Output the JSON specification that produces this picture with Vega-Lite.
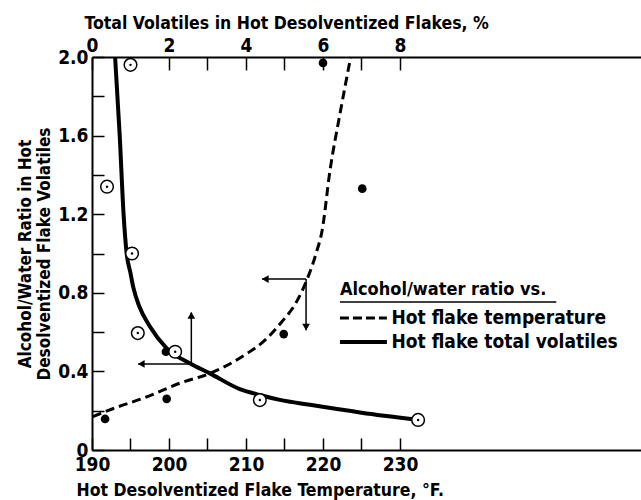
{
  "$schema": "https://vega.github.io/schema/vega-lite/v6.json",
  "width": 549,
  "height": 393,
  "autosize": "none",
  "padding": {"left": 92, "top": 57, "right": 0, "bottom": 50},
  "background": "white",
  "config": {
    "view": {"stroke": null},
    "axis": {
      "labelFont": "DejaVu Sans Condensed", "labelFontWeight": "bold", "labelFontSize": 19, "labelColor": "black",
      "titleFont": "DejaVu Sans Condensed", "titleFontWeight": "bold", "titleFontSize": 17.5, "titleColor": "black",
      "domainColor": "black", "domainWidth": 2, "tickColor": "black", "tickWidth": 1.5, "ticks": true,
      "grid": false, "labelFlush": false, "labelOverlap": false
    },
    "text": {"font": "DejaVu Sans Condensed", "fontWeight": "bold", "fontSize": 19, "color": "black"}
  },
  "datasets": {
    "tempCurve": [
      {"T": 190.1, "r": 0.17},
      {"T": 192.7, "r": 0.21},
      {"T": 197.1, "r": 0.27},
      {"T": 201.4, "r": 0.34},
      {"T": 205.3, "r": 0.39},
      {"T": 210.1, "r": 0.49},
      {"T": 212.5, "r": 0.56},
      {"T": 214.6, "r": 0.65},
      {"T": 216.5, "r": 0.75},
      {"T": 217.9, "r": 0.865},
      {"T": 219.1, "r": 1.0},
      {"T": 219.9, "r": 1.12},
      {"T": 220.9, "r": 1.42},
      {"T": 222.2, "r": 1.71},
      {"T": 223.6, "r": 2.0}
    ],
    "volCurve": [
      {"v": 0.60, "r": 2.00},
      {"v": 0.72, "r": 1.60},
      {"v": 0.82, "r": 1.20},
      {"v": 0.90, "r": 1.00},
      {"v": 1.00, "r": 0.90},
      {"v": 1.07, "r": 0.83},
      {"v": 1.23, "r": 0.73},
      {"v": 1.50, "r": 0.63},
      {"v": 1.93, "r": 0.52},
      {"v": 2.55, "r": 0.44},
      {"v": 3.06, "r": 0.39},
      {"v": 3.84, "r": 0.31},
      {"v": 4.36, "r": 0.28},
      {"v": 4.88, "r": 0.255},
      {"v": 5.66, "r": 0.23},
      {"v": 7.0, "r": 0.19},
      {"v": 8.4, "r": 0.155}
    ],
    "tempPts": [
      {"T": 191.7, "r": 0.158},
      {"T": 199.7, "r": 0.26},
      {"T": 199.6, "r": 0.50},
      {"T": 214.9, "r": 0.59},
      {"T": 225.1, "r": 1.33},
      {"T": 220.0, "r": 1.97}
    ],
    "volPts": [
      {"v": 1.0, "r": 1.96},
      {"v": 0.39, "r": 1.34},
      {"v": 1.04, "r": 1.00},
      {"v": 1.19, "r": 0.595},
      {"v": 2.16, "r": 0.50},
      {"v": 4.36, "r": 0.254},
      {"v": 8.47, "r": 0.153}
    ],
    "arrowH": [
      {"T": 202.9, "T2": 196.0, "r": 0.438},
      {"T": 217.8, "T2": 212.1, "r": 0.87}
    ],
    "arrowV": [
      {"T": 202.9, "r": 0.438, "r2": 0.70},
      {"T": 217.8, "r": 0.87, "r2": 0.61}
    ],
    "headLeft": [
      {"T": 196.4, "r": 0.438},
      {"T": 212.5, "r": 0.87}
    ],
    "headUp": [{"T": 202.9, "r": 0.685}],
    "headDown": [{"T": 217.8, "r": 0.625}],
    "legendTitle": [{"T": 222.2, "r": 0.814, "label": "Alcohol/water ratio vs."}],
    "underline": [{"T": 222.2, "T2": 250.3, "r": 0.753}],
    "legendDash": [{"T": 222.2, "T2": 228.3, "r": 0.672}],
    "legendSolid": [{"T": 222.2, "T2": 228.3, "r": 0.55}],
    "legendLabels": [
      {"T": 228.9, "r": 0.672, "label": "Hot flake temperature"},
      {"T": 228.9, "r": 0.55, "label": "Hot flake  total volatiles"}
    ]
  },
  "encoding": {
    "y": {
      "field": "r", "type": "quantitative",
      "scale": {"domain": [0, 2.0], "nice": false, "zero": false},
      "axis": {
        "orient": "left",
        "values": [0, 0.2, 0.4, 0.6, 0.8, 1.0, 1.2, 1.4, 1.6, 1.8, 2.0],
        "labelExpr": "round(datum.value*10) % 4 == 0 ? (datum.value == 0 ? '0' : format(datum.value, '.1f')) : ''",
        "tickSize": -12,
        "labelPadding": 16,
        "title": ["Alcohol/Water Ratio in Hot", "Desolventized Flake Volatiles"],
        "titleFontSize": 17,
        "titlePadding": 4
      }
    }
  },
  "layer": [
    {
      "encoding": {
        "x": {
          "field": "T", "type": "quantitative",
          "scale": {"domain": [190, 261.3], "nice": false, "zero": false},
          "axis": {
            "orient": "bottom",
            "values": [190, 195, 200, 205, 210, 215, 220, 225, 230],
            "labelExpr": "datum.value % 10 == 0 ? datum.label : ''",
            "tickSize": -12,
            "labelPadding": 17,
            "title": "Hot Desolventized Flake Temperature, °F.",
            "titleAnchor": "start", "titleAlign": "left", "titleX": -16, "titleY": 45, "titleBaseline": "alphabetic"
          }
        }
      },
      "layer": [
        {
          "data": {"name": "tempCurve"},
          "mark": {"type": "line", "interpolate": "monotone", "strokeWidth": 3, "color": "black", "strokeDash": [9, 5]}
        },
        {
          "data": {"name": "tempPts"},
          "mark": {"type": "point", "filled": true, "color": "black", "size": 75, "opacity": 1}
        },
        {
          "data": {"name": "arrowH"},
          "mark": {"type": "rule", "color": "black", "strokeWidth": 1.5},
          "encoding": {"x2": {"field": "T2"}}
        },
        {
          "data": {"name": "arrowV"},
          "mark": {"type": "rule", "color": "black", "strokeWidth": 1.5},
          "encoding": {"y2": {"field": "r2"}}
        },
        {
          "data": {"name": "headLeft"},
          "mark": {"type": "point", "shape": "triangle-left", "filled": true, "color": "black", "size": 60, "opacity": 1}
        },
        {
          "data": {"name": "headUp"},
          "mark": {"type": "point", "shape": "triangle-up", "filled": true, "color": "black", "size": 60, "opacity": 1}
        },
        {
          "data": {"name": "headDown"},
          "mark": {"type": "point", "shape": "triangle-down", "filled": true, "color": "black", "size": 60, "opacity": 1}
        },
        {
          "data": {"name": "underline"},
          "mark": {"type": "rule", "color": "black", "strokeWidth": 1.5},
          "encoding": {"x2": {"field": "T2"}}
        },
        {
          "data": {"name": "legendDash"},
          "mark": {"type": "rule", "color": "black", "strokeWidth": 3, "strokeDash": [9, 4]},
          "encoding": {"x2": {"field": "T2"}}
        },
        {
          "data": {"name": "legendSolid"},
          "mark": {"type": "rule", "color": "black", "strokeWidth": 4},
          "encoding": {"x2": {"field": "T2"}}
        },
        {
          "data": {"name": "legendTitle"},
          "mark": {"type": "text", "align": "left", "baseline": "middle", "fontSize": 18},
          "encoding": {"text": {"field": "label"}}
        },
        {
          "data": {"name": "legendLabels"},
          "mark": {"type": "text", "align": "left", "baseline": "middle"},
          "encoding": {"text": {"field": "label"}}
        }
      ]
    },
    {
      "encoding": {
        "x": {
          "field": "v", "type": "quantitative",
          "scale": {"domain": [0, 14.26], "nice": false, "zero": false},
          "axis": {
            "orient": "top",
            "values": [0, 1, 2, 3, 4, 5, 6, 7, 8],
            "labelExpr": "datum.value % 2 == 0 ? datum.label : ''",
            "tickSize": -13,
            "labelPadding": 15,
            "title": "Total Volatiles in Hot Desolventized Flakes, %",
            "titleAnchor": "start", "titleAlign": "left", "titleX": -8, "titleY": -29, "titleBaseline": "alphabetic"
          }
        }
      },
      "layer": [
        {
          "data": {"name": "volCurve"},
          "mark": {"type": "line", "interpolate": "monotone", "strokeWidth": 4, "color": "black"}
        },
        {
          "data": {"name": "volPts"},
          "mark": {"type": "point", "filled": false, "fill": "white", "fillOpacity": 1, "stroke": "black", "strokeWidth": 1.5, "size": 160, "opacity": 1}
        },
        {
          "data": {"name": "volPts"},
          "mark": {"type": "point", "filled": true, "color": "black", "size": 6, "opacity": 1}
        }
      ]
    }
  ],
  "resolve": {"scale": {"x": "independent"}}
}
